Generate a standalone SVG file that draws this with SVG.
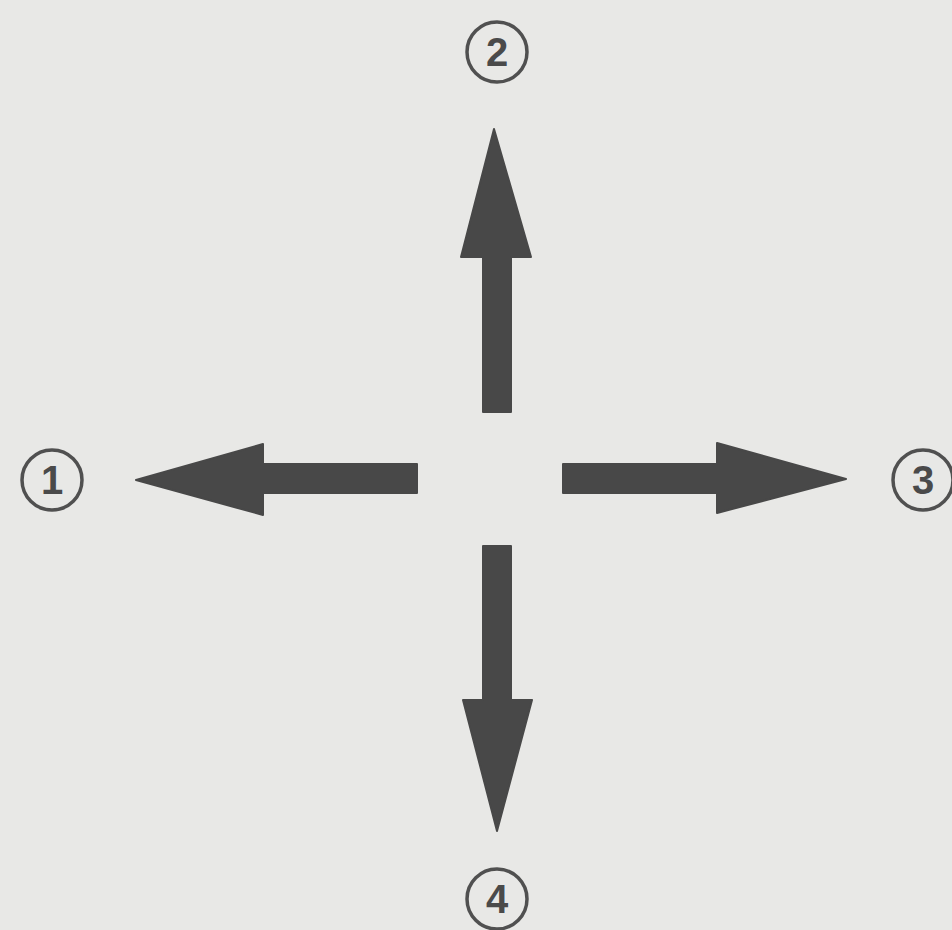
<svg xmlns="http://www.w3.org/2000/svg" width="952" height="930" viewBox="0 0 952 930">
<style>
.bg{fill:#e8e8e6}
.ring{fill:none;stroke:#505050;stroke-width:3.5}
.num{font-family:"Liberation Sans",Arial,sans-serif;font-size:40px;font-weight:bold;fill:#4a4a4a;text-anchor:middle}
.arrow{fill:#484848;stroke:#484848;stroke-width:2;stroke-linejoin:round}
</style>
<rect class="bg" x="0" y="0" width="952" height="930"/>
<g id="connectors">
  <path id="arrow-left" class="arrow" d="M417,464 L263,464 L263,444 L136,480 L263,515 L263,493 L417,493 Z"/>
  <path id="arrow-up" class="arrow" d="M483,412 L483,257 L461,257 L494,129 L531,257 L511,257 L511,412 Z"/>
  <path id="arrow-right" class="arrow" d="M563,464 L717,464 L717,443 L846,479 L717,513 L717,493 L563,493 Z"/>
  <path id="arrow-down" class="arrow" d="M483,546 L483,700 L463,700 L497,831 L532,700 L511,700 L511,546 Z"/>
</g>
<g id="node-1">
  <circle class="ring" cx="52" cy="480" r="30"/>
  <text class="num" x="52" y="494">1</text>
</g>
<g id="node-2">
  <circle class="ring" cx="497" cy="52" r="30"/>
  <text class="num" x="497" y="66">2</text>
</g>
<g id="node-3">
  <circle class="ring" cx="923" cy="480" r="30"/>
  <text class="num" x="923" y="494">3</text>
</g>
<g id="node-4">
  <circle class="ring" cx="497" cy="899" r="30"/>
  <text class="num" x="497" y="913">4</text>
</g>
</svg>
